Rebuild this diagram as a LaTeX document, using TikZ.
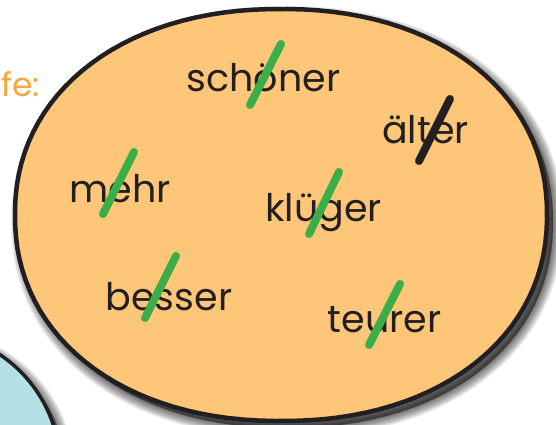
\documentclass[tikz,border=0pt]{standalone}
\usepackage{fontspec}
\setmainfont{Poppins}
\definecolor{peach}{HTML}{FDC678}
\definecolor{skyb}{HTML}{B5E0E6}
\definecolor{slashgreen}{HTML}{3BAE4A}
\definecolor{inkblack}{HTML}{231F20}
\definecolor{stufeorange}{HTML}{F5A83B}
\tikzset{declare function={
  spc(\t)=(cos(\t)>=0 ? pow(abs(cos(\t)),0.93) : -pow(abs(cos(\t)),0.93));
  sps(\t)=(sin(\t)>=0 ? pow(abs(sin(\t)),0.93) : -pow(abs(sin(\t)),0.93));
}}
\newcommand\myblob[1]{\path[#1] plot[domain=1:361, samples=121, variable=\t]
  ({281+266*spc(\t)},{215+206*sps(\t)}) -- cycle;}
\newcommand\mycirc[1]{\path[#1] (-75,467) circle[radius=135];}
\tikzset{
  word/.style={anchor=base, inner sep=0pt, font=\fontsize{38}{40}\selectfont, text=inkblack},
  strike/.style={line width=8pt, line cap=round, draw=slashgreen},
  shadowlayer/.style={fill=black, draw=black, opacity=0.065, xshift=6pt, yshift=-7pt}
}
\begin{document}
\begin{tikzpicture}[x=1pt,y=-1pt]
\useasboundingbox (0,0) rectangle (556,425);
\clip (0,0) rectangle (556,425);
\fill[white] (0,0) rectangle (556,425);
% blue circle with shadow
\foreach \w in {18,16,...,2} {\mycirc{shadowlayer, line width=\w pt}}
\mycirc{fill=skyb, draw=inkblack, line width=3.5pt}
% ellipse with shadow
\foreach \w in {20,18,...,2} {\myblob{shadowlayer, line width=\w pt}}
\myblob{fill=peach, draw=inkblack, line width=4.5pt}
% orange partial label
\node[anchor=base west, inner sep=0pt, font=\fontsize{33}{36}\selectfont, text=stufeorange] (stufe) at (1,97) {fe:};
% words
\node[word] (schoener) at (263.5,92) {schöner};
\node[word] (aelter) at (425.5,143) {älter};
\node[word] (mehr) at (120,202) {mehr};
\node[word] (kluger) at (323.5,221) {klüger};
\node[word] (besser) at (169,310) {besser};
\node[word] (teurer) at (384.5,332) {teurer};
% strikes
\coordinate (s1a) at (281,44); \coordinate (s1b) at (250,105);
\coordinate (s2a) at (134,152); \coordinate (s2b) at (103,214);
\coordinate (s3a) at (176,256); \coordinate (s3b) at (145,318);
\coordinate (s4a) at (339,172); \coordinate (s4b) at (309,234);
\coordinate (s5a) at (400,284); \coordinate (s5b) at (369,345);
\coordinate (s6a) at (450,99); \coordinate (s6b) at (419,161);
\draw[strike] (s1a) -- (s1b);
\draw[strike] (s2a) -- (s2b);
\draw[strike] (s3a) -- (s3b);
\draw[strike] (s4a) -- (s4b);
\draw[strike] (s5a) -- (s5b);
\draw[strike, draw=inkblack] (s6a) -- (s6b);
\end{tikzpicture}
\end{document}
